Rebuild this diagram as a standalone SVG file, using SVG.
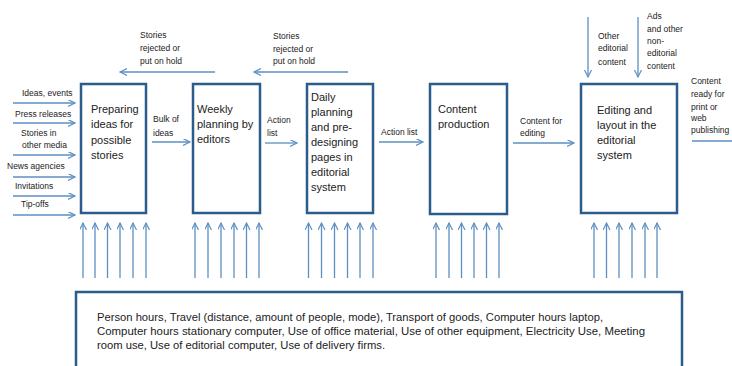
<svg xmlns="http://www.w3.org/2000/svg" width="732" height="366" viewBox="0 0 732 366">
  <style>
    .box { fill: #ffffff; stroke: #2b5d8c; stroke-width: 2.5; }
    .conn { stroke: #5d8fc2; stroke-width: 1.3; fill: none; }
    .lbl { font-family: "Liberation Sans", Arial, sans-serif; font-size: 8.5px; fill: #222222; }
    .node { font-family: "Liberation Sans", Arial, sans-serif; font-size: 11px; fill: #222222; }
    .res { font-family: "Liberation Sans", Arial, sans-serif; font-size: 10px; fill: #222222; }
  </style>
  <defs>
    <marker id="arrow" markerUnits="userSpaceOnUse" markerWidth="9" markerHeight="9" refX="7" refY="3.5" orient="auto">
      <path d="M0,0 L7,3.5 L0,7" fill="none" stroke="#5d8fc2" stroke-width="1.2"/>
    </marker>
  </defs>
  <rect width="732" height="366" fill="#ffffff"/>

  <!-- process steps -->
  <g id="node-preparing">
    <rect class="box" x="81" y="84" width="65" height="129"/>
    <text class="node" x="91" y="113">Preparing</text>
    <text class="node" x="91" y="128">ideas for</text>
    <text class="node" x="91" y="144">possible</text>
    <text class="node" x="91" y="159">stories</text>
  </g>
  <g id="node-weekly">
    <rect class="box" x="193" y="84" width="67" height="129"/>
    <text class="node" x="197" y="113">Weekly</text>
    <text class="node" x="197" y="128">planning by</text>
    <text class="node" x="197" y="143">editors</text>
  </g>
  <g id="node-daily">
    <rect class="box" x="307" y="84" width="66" height="129"/>
    <text class="node" x="311" y="101">Daily</text>
    <text class="node" x="311" y="116">planning</text>
    <text class="node" x="311" y="131">and pre-</text>
    <text class="node" x="311" y="146">designing</text>
    <text class="node" x="311" y="161">pages in</text>
    <text class="node" x="311" y="176">editorial</text>
    <text class="node" x="311" y="191">system</text>
  </g>
  <g id="node-content">
    <rect class="box" x="430" y="84" width="77" height="130"/>
    <text class="node" x="438" y="113">Content</text>
    <text class="node" x="438" y="128">production</text>
  </g>
  <g id="node-editing">
    <rect class="box" x="581" y="84" width="96" height="129"/>
    <text class="node" x="597" y="114">Editing and</text>
    <text class="node" x="597" y="129">layout in the</text>
    <text class="node" x="597" y="144">editorial</text>
    <text class="node" x="597" y="159">system</text>
  </g>
  <g id="node-resources">
    <rect class="box" x="76" y="292" width="606" height="80"/>
    <text class="res" x="97" y="321" textLength="506" lengthAdjust="spacingAndGlyphs">Person hours, Travel (distance, amount of people, mode), Transport of goods, Computer hours laptop,</text>
    <text class="res" x="97" y="335" textLength="548" lengthAdjust="spacingAndGlyphs">Computer hours stationary computer, Use of office material, Use of other equipment, Electricity Use, Meeting</text>
    <text class="res" x="97" y="349" textLength="288" lengthAdjust="spacingAndGlyphs">room use, Use of editorial computer, Use of delivery firms.</text>
  </g>

  <!-- connectors -->
  <g id="connectors">
    <!-- inputs to idea preparation -->
    <line class="conn" x1="13" y1="103" x2="75" y2="103" marker-end="url(#arrow)"/>
    <line class="conn" x1="13" y1="123" x2="75" y2="123" marker-end="url(#arrow)"/>
    <line class="conn" x1="13" y1="155" x2="75" y2="155" marker-end="url(#arrow)"/>
    <line class="conn" x1="13" y1="177" x2="75" y2="177" marker-end="url(#arrow)"/>
    <line class="conn" x1="13" y1="196" x2="75" y2="196" marker-end="url(#arrow)"/>
    <line class="conn" x1="13" y1="215" x2="75" y2="215" marker-end="url(#arrow)"/>

    <!-- flow between steps -->
    <line class="conn" x1="152" y1="142" x2="190" y2="142" marker-end="url(#arrow)"/>
    <line class="conn" x1="265" y1="143" x2="297" y2="143" marker-end="url(#arrow)"/>
    <line class="conn" x1="379" y1="142" x2="423" y2="142" marker-end="url(#arrow)"/>
    <line class="conn" x1="513" y1="143" x2="574" y2="143" marker-end="url(#arrow)"/>
    <line class="conn" x1="692" y1="141" x2="732" y2="141"/>

    <!-- rejected stories going back -->
    <line class="conn" x1="215" y1="72" x2="120" y2="72" marker-end="url(#arrow)"/>
    <line class="conn" x1="348" y1="72" x2="254" y2="72" marker-end="url(#arrow)"/>

    <!-- extra content into editing -->
    <line class="conn" x1="588" y1="17" x2="588" y2="77" marker-end="url(#arrow)"/>
    <line class="conn" x1="638" y1="17" x2="638" y2="77" marker-end="url(#arrow)"/>

    <!-- resources feeding each step -->
    <g marker-end="url(#arrow)">
      <line class="conn" x1="83" y1="278" x2="83" y2="223"/>
      <line class="conn" x1="95" y1="278" x2="95" y2="223"/>
      <line class="conn" x1="107.5" y1="278" x2="107.5" y2="223"/>
      <line class="conn" x1="120" y1="278" x2="120" y2="223"/>
      <line class="conn" x1="133" y1="278" x2="133" y2="223"/>
      <line class="conn" x1="146" y1="278" x2="146" y2="223"/>

      <line class="conn" x1="195" y1="278" x2="195" y2="223"/>
      <line class="conn" x1="208" y1="278" x2="208" y2="223"/>
      <line class="conn" x1="221" y1="278" x2="221" y2="223"/>
      <line class="conn" x1="234" y1="278" x2="234" y2="223"/>
      <line class="conn" x1="246.5" y1="278" x2="246.5" y2="223"/>
      <line class="conn" x1="259" y1="278" x2="259" y2="223"/>

      <line class="conn" x1="308.5" y1="278" x2="308.5" y2="223"/>
      <line class="conn" x1="321.5" y1="278" x2="321.5" y2="223"/>
      <line class="conn" x1="334.5" y1="278" x2="334.5" y2="223"/>
      <line class="conn" x1="347.5" y1="278" x2="347.5" y2="223"/>
      <line class="conn" x1="360" y1="278" x2="360" y2="223"/>
      <line class="conn" x1="373" y1="278" x2="373" y2="223"/>

      <line class="conn" x1="436" y1="278" x2="436" y2="223"/>
      <line class="conn" x1="449" y1="278" x2="449" y2="223"/>
      <line class="conn" x1="461.5" y1="278" x2="461.5" y2="223"/>
      <line class="conn" x1="474" y1="278" x2="474" y2="223"/>
      <line class="conn" x1="486.5" y1="278" x2="486.5" y2="223"/>
      <line class="conn" x1="499" y1="278" x2="499" y2="223"/>

      <line class="conn" x1="594" y1="278" x2="594" y2="223"/>
      <line class="conn" x1="606.5" y1="278" x2="606.5" y2="223"/>
      <line class="conn" x1="619" y1="278" x2="619" y2="223"/>
      <line class="conn" x1="632" y1="278" x2="632" y2="223"/>
      <line class="conn" x1="645" y1="278" x2="645" y2="223"/>
      <line class="conn" x1="657" y1="278" x2="657" y2="223"/>
    </g>
  </g>

  <!-- connector labels -->
  <g id="labels">
    <text class="lbl" x="22" y="96">Ideas, events</text>
    <text class="lbl" x="15" y="117">Press releases</text>
    <text class="lbl" x="21" y="136">Stories in</text>
    <text class="lbl" x="22" y="148">other media</text>
    <text class="lbl" x="7" y="169">News agencies</text>
    <text class="lbl" x="15" y="189">Invitations</text>
    <text class="lbl" x="21" y="207">Tip-offs</text>

    <text class="lbl" x="153" y="122">Bulk of</text>
    <text class="lbl" x="153" y="136">ideas</text>
    <text class="lbl" x="267" y="123">Action</text>
    <text class="lbl" x="267" y="136">list</text>
    <text class="lbl" x="381" y="135">Action list</text>
    <text class="lbl" x="520" y="124">Content for</text>
    <text class="lbl" x="520" y="136">editing</text>
    <text class="lbl" x="691" y="84">Content</text>
    <text class="lbl" x="691" y="97">ready for</text>
    <text class="lbl" x="691" y="110">print or</text>
    <text class="lbl" x="691" y="121">web</text>
    <text class="lbl" x="691" y="133">publishing</text>

    <text class="lbl" x="140" y="38">Stories</text>
    <text class="lbl" x="140" y="51">rejected or</text>
    <text class="lbl" x="140" y="64">put on hold</text>
    <text class="lbl" x="273" y="39">Stories</text>
    <text class="lbl" x="273" y="52">rejected or</text>
    <text class="lbl" x="273" y="64">put on hold</text>

    <text class="lbl" x="598" y="39">Other</text>
    <text class="lbl" x="598" y="51">editorial</text>
    <text class="lbl" x="598" y="65">content</text>
    <text class="lbl" x="647" y="19">Ads</text>
    <text class="lbl" x="647" y="32">and other</text>
    <text class="lbl" x="647" y="44">non-</text>
    <text class="lbl" x="647" y="56">editorial</text>
    <text class="lbl" x="647" y="69">content</text>
  </g>
</svg>
